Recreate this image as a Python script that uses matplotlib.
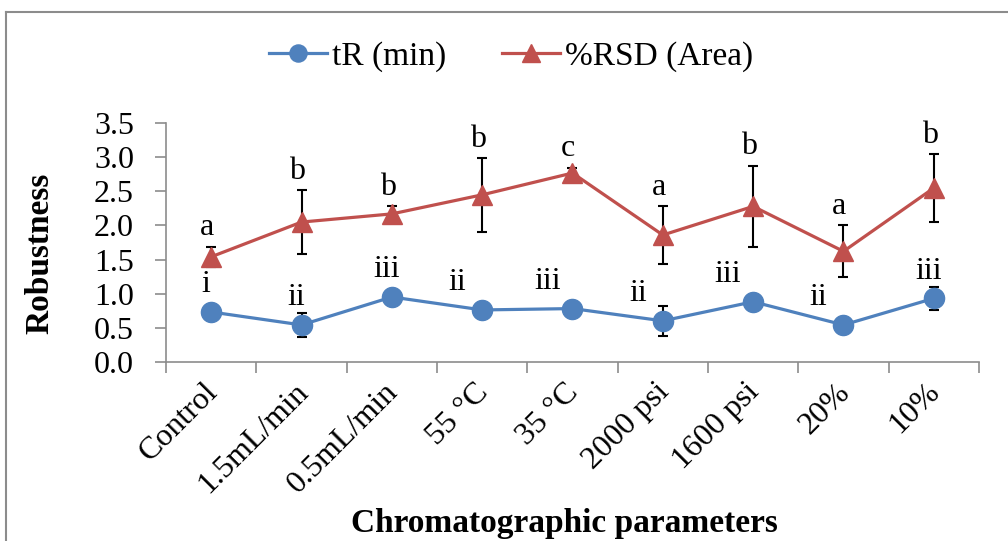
import matplotlib.pyplot as plt
import matplotlib.transforms as mtransforms
import numpy as np

plt.rcParams['font.family'] = ['Liberation Serif', 'DejaVu Serif']

categories = ['Control', '1.5mL/min', '0.5mL/min', '55 °C', '35 °C',
              '2000 psi', '1600 psi', '20%', '10%']
tr_min = [0.73, 0.54, 0.95, 0.76, 0.78, 0.60, 0.88, 0.54, 0.93]
tr_err = [0.05, 0.17, 0.05, 0.05, 0.05, 0.22, 0.05, 0.05, 0.17]
rsd_area = [1.54, 2.05, 2.17, 2.45, 2.77, 1.86, 2.28, 1.62, 2.55]
rsd_err = [0.15, 0.47, 0.12, 0.54, 0.08, 0.42, 0.60, 0.38, 0.50]
tr_letters = ['i', 'ii', 'iii', 'ii', 'iii', 'ii', 'iii', 'ii', 'iii']
rsd_letters = ['a', 'b', 'b', 'b', 'c', 'a', 'b', 'a', 'b']

blue = '#4F81BD'
red = '#C0504D'
grey = '#8C8C8C'

fig = plt.figure(figsize=(10.08, 5.41), dpi=100)
ax = fig.add_axes([0.1647, 0.3314, 0.8065, 0.4407])

x = np.arange(len(categories))

# error bars under the markers
ax.errorbar(x, rsd_area, yerr=rsd_err, fmt='none', ecolor='black',
            elinewidth=1.5, capsize=3.6, capthick=1.5, zorder=2)
ax.errorbar(x, tr_min, yerr=tr_err, fmt='none', ecolor='black',
            elinewidth=1.5, capsize=3.6, capthick=1.5, zorder=2)

ax.plot(x, tr_min, color=blue, lw=2.3, marker='o', markersize=14.5,
        label='tR (min)', zorder=3)
ax.plot(x, rsd_area, color=red, lw=2.3, marker='^', markersize=15,
        label='%RSD (Area)', zorder=3)

# significance letters
for i in range(len(categories)):
    ax.annotate(rsd_letters[i], (x[i], rsd_area[i] + rsd_err[i]),
                xytext=(-3, 3), textcoords='offset points',
                ha='center', va='bottom', fontsize=23, zorder=4)
    dx = -18 if 3 <= i <= 7 else -4
    ax.annotate(tr_letters[i], (x[i], tr_min[i]),
                xytext=(dx, 9), textcoords='offset points',
                ha='center', va='bottom', fontsize=23, zorder=4)

ax.set_xlim(-0.5, len(categories) - 0.5)
ax.set_ylim(0, 3.5)
ax.set_yticks(np.arange(0, 3.51, 0.5))
ax.set_yticklabels(['%.1f' % v for v in np.arange(0, 3.51, 0.5)])
ax.set_xticks(np.arange(-0.5, len(categories), 1.0))
ax.set_xticklabels([])

# rotated category labels
lab_tr = ax.get_xaxis_transform() + mtransforms.ScaledTranslation(
    2 / 100, -26 / 100, fig.dpi_scale_trans)
for i, c in enumerate(categories):
    ax.text(x[i], 0, c, transform=lab_tr, rotation=45, ha='right',
            va='center', rotation_mode='anchor', fontsize=23)

ax.tick_params(axis='x', which='major', length=8, color=grey, width=1.2,
               direction='out')
ax.tick_params(axis='y', length=8, color=grey, width=1.2, direction='out',
               labelsize=23, pad=15)

for s in ['top', 'right']:
    ax.spines[s].set_visible(False)
for s in ['left', 'bottom']:
    ax.spines[s].set_color(grey)
    ax.spines[s].set_linewidth(1.2)

ax.set_ylabel('Robustness', fontsize=24, fontweight='bold')
ax.yaxis.set_label_coords(-0.1365, 0.456)
fig.text(0.56, 0.033, 'Chromatographic parameters', fontsize=24,
         fontweight='bold', ha='center', va='center')

ax.legend(loc='center', bbox_to_anchor=(0.507, 0.895),
          bbox_transform=fig.transFigure, ncol=2, frameon=False,
          fontsize=24, handlelength=1.73, columnspacing=1.7,
          handletextpad=0.15, markerscale=0.85)

# outer chart border
fig.add_artist(plt.Line2D([0.006, 1.0], [0.978, 0.978], color=grey, lw=1.5,
                          transform=fig.transFigure))
fig.add_artist(plt.Line2D([0.006, 0.006], [0.0, 0.978], color=grey, lw=1.5,
                          transform=fig.transFigure))

fig.savefig('out.png', dpi=100)
